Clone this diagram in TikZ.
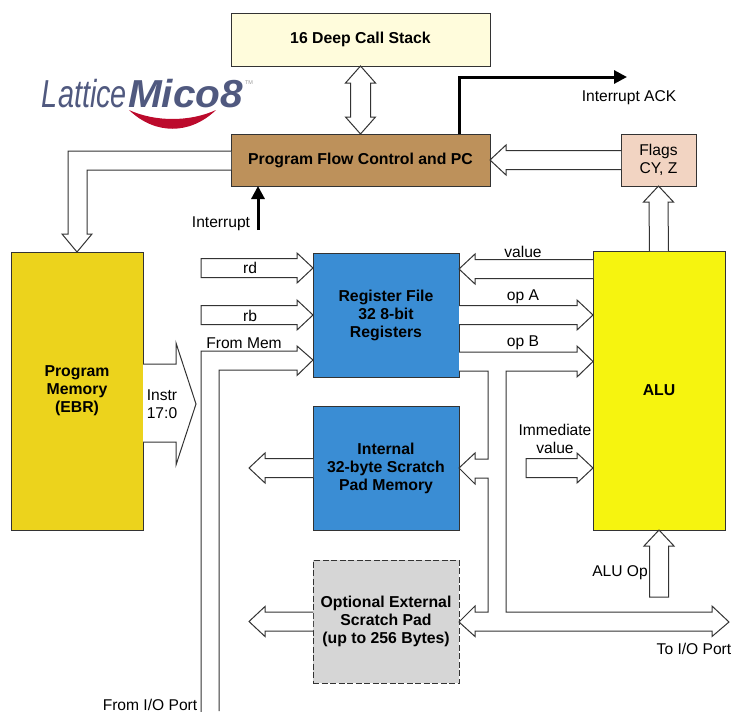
\documentclass[tikz,border=0pt]{standalone}
\usepackage{fontspec}
\setmainfont{Liberation Sans}
\usetikzlibrary{positioning,arrows.meta}
\definecolor{stackfill}{HTML}{FFFCDC}
\definecolor{pcfill}{HTML}{BD915B}
\definecolor{flagsfill}{HTML}{F2D4C2}
\definecolor{memfill}{HTML}{ECD31C}
\definecolor{regfill}{HTML}{3A8DD4}
\definecolor{padfill}{HTML}{D6D6D6}
\definecolor{alufill}{HTML}{F6F40F}
\definecolor{logoblue}{HTML}{50597F}
\definecolor{logored}{HTML}{BC0A2C}
\tikzset{
  block/.style={draw=black!80,line width=1pt,inner sep=0pt,outer sep=0pt,align=center,
    font=\fontsize{15.8}{18}\selectfont\bfseries},
  label/.style={inner sep=0pt,align=center,font=\fontsize{15.6}{18}\selectfont},
  hollow/.style={draw=black!80,fill=white,line width=1pt,miter limit=10},
  bus/.style n args={3}{hollow,to path={
    ([shift={(9.5*#2,-9.5*#1)}]\tikztostart)
    -- ([shift={(-16*#1+9.5*#2,-16*#2-9.5*#1)}]\tikztotarget)
    -- ([shift={(-16*#1+15*#2,-16*#2-15*#1)}]\tikztotarget)
    -- (\tikztotarget)
    -- ([shift={(-16*#1-15*#2,-16*#2+15*#1)}]\tikztotarget)
    -- ([shift={(-16*#1-9.5*#2,-16*#2+9.5*#1)}]\tikztotarget)
    -- ([shift={(-9.5*#2,9.5*#1)}]\tikztostart) #3}},
  busright/.style={bus={1}{0}{}},
  busleft/.style={bus={-1}{0}{}},
  busup/.style={bus={0}{-1}{}},
  busrightend/.style={bus={1}{0}{-- cycle}},
  busupend/.style={bus={0}{-1}{-- cycle}},
  sig/.style={line width=3pt,>={Triangle[length=13pt,width=13pt]}}
}
\begin{document}
\begin{tikzpicture}[x=1pt,y=-1pt]
        \useasboundingbox (0,0) rectangle (732,712);
        \node[block,fill=stackfill,minimum width=259pt,minimum height=53pt] (stack) at (360.5,39.5) {\raisebox{-1pt}{16 Deep Call Stack}};
        \node[block,fill=pcfill,minimum width=259pt,minimum height=52pt,below=68pt of stack] (pc) {Program Flow Control and PC};
        \node[block,fill=flagsfill,font=\fontsize{15.6}{18}\selectfont,minimum width=75pt,minimum height=52pt,right=131pt of pc] (flags) {Flags\\CY, Z};
        \node[block,fill=memfill,minimum width=132pt,minimum height=278pt] (pmem) at (77,391) {Program\\Memory\\(EBR)};
        \node[block,fill=regfill,minimum width=146pt,minimum height=124pt] (regfile) at (386,315) {Register File\\32 8-bit\\Registers};
        \node[block,fill=regfill,minimum width=146pt,minimum height=124pt,below=29pt of regfile] (scratch) {Internal\\32-byte Scratch\\Pad Memory};
        \node[block,fill=padfill,dashed,dash pattern=on 6pt off 2.5pt,minimum width=146pt,minimum height=123pt,below=30pt of scratch] (extpad) {Optional External\\Scratch Pad\\(up to 256 Bytes)};
        \node[block,fill=alufill,minimum width=132pt,minimum height=279pt] (alu) at (659,390.5) {ALU};

        \coordinate (rdtip) at ([yshift=47pt]regfile.west);
        \coordinate[left=112pt of rdtip] (rdtail);
        \coordinate[left=112pt of regfile.west] (rbtail);
        \coordinate (valtip) at ([yshift=46pt]regfile.east);
        \coordinate[left=67pt of scratch.east -| alu.west] (immtail);
        \coordinate[left=64pt of scratch.west] (scratchout);
        \coordinate[left=64pt of extpad.west] (padout);
        \coordinate[below=67pt of alu.south] (aluoptail);
        \coordinate (iotail) at (201,712);
        \coordinate (intsrc) at (258,230);
        \coordinate (acktip) at (627,77);

        \draw[hollow] (stack.south) -- ++(15,17) -- ++(-5,0) -- ++(0,34) -- ++(5,0) -- (pc.north)
            -- ++(-15,-17) -- ++(5,0) -- ++(0,-34) -- ++(-5,0) -- cycle;
        \draw[busleft] (flags.west) to (pc.east);
        \draw[busup] (alu.north) to (flags.south);
        \draw[hollow] ([yshift=9pt]pc.west) -- ++(-163,0) -- ++(0,83) -- ++(-6,0) -- (pmem.north)
            -- ++(15,-18) -- ++(-5,0) -- ++(0,-64) -- ([yshift=-10pt]pc.west);
        \draw[hollow] ([yshift=27pt]pmem.east) -- ++(33,0) -- ++(0,-21) -- ++(20,61) -- ++(-20,61)
            -- ++(0,-23) -- ([yshift=-51pt]pmem.east);
        \draw[busrightend] (rdtail) to (rdtip);
        \draw[busrightend] (rbtail) to (regfile.west);
        \draw[hollow] (iotail) -- ++(0,-361) -- ++(96,0) -- ++(0,-5) -- ([yshift=-45pt]regfile.west)
            -- ++(-16,15.5) -- ++(0,-5.5) -- ++(-78,0) -- ++(0,341);
        \draw[busleft] (valtip -| alu.west) to (valtip);
        \draw[busright] (regfile.east) to (regfile.east -| alu.west);
        \draw[hollow] ([yshift=-37pt]regfile.east) -- ++(118,0) -- ++(0,-6) -- ++(16,15.5) -- ++(-16,15.5)
            -- ++(0,-6) -- ++(-71,0) -- ++(0,241) -- ++(206,0) -- ++(0,-6) -- ++(17,16) -- ++(-17,14.5)
            -- ++(0,-5.5) -- ++(-237,0) -- ++(0,5.5) -- ++(-16,-14.5) -- ++(16,-16) -- ++(0,6) -- ++(13,0)
            -- ++(0,-134) -- ++(-13,0) -- ++(0,6) -- ++(-16,-16) -- ++(16,-15) -- ++(0,6) -- ++(13,0)
            -- ++(0,-88) -- ([yshift=-56pt]regfile.east);
        \draw[busleft] (scratch.west) to (scratchout);
        \draw[busleft] (extpad.west) to (padout);
        \draw[busrightend] (immtail) to (scratch.east -| alu.west);
        \draw[busupend] (aluoptail) to (alu.south);
        \draw[sig,->] (intsrc) -- (intsrc |- pc.south);
        \draw[sig,->] ([xshift=98.5pt]pc.north) |- (acktip);

        \node[label] (rdlabel) at (250,268) {rd};
        \node[label] (rblabel) at (250,316) {rb};
        \node[label] (memlabel) at (244,343) {From Mem};
        \node[label] (instrlabel) at (162,404) {Instr\\17:0};
        \node[label] (vallabel) at (523,252) {value};
        \node[label] (opalabel) at (523,297) {op A};
        \node[label] (opblabel) at (523,343) {op B};
        \node[label] (immlabel) at (555,439) {Immediate\\value};
        \node[label] (aluoplabel) at (620,573) {ALU Op};
        \node[label] (tolabel) at (694,649) {To I/O Port};
        \node[label] (fromlabel) at (150,705) {From I/O Port};
        \node[label] (intlabel) at (221,224) {Interrupt};
        \node[label] (acklabel) at (629,98) {Interrupt ACK};

        \node[inner sep=0pt,text=logoblue,font=\fontsize{39}{39}\selectfont\itshape] (lattice) at (84.5,94) {\scalebox{0.74}[1]{Lattice}};
        \node[inner sep=0pt,text=logoblue,font=\fontsize{39}{39}\selectfont\bfseries\itshape] (mico) at (185.5,94) {\scalebox{1.04}[1]{Mico8}};
        \node[inner sep=0pt,text=black!40,font=\fontsize{5.5}{6}\selectfont] (tm) at (249,83) {TM};
        \fill[logored] (129,110) .. controls (155,122) and (190,122) .. (216,110)
            .. controls (190,135) and (155,135) .. (129,110) -- cycle;
    \end{tikzpicture}
\end{document}
